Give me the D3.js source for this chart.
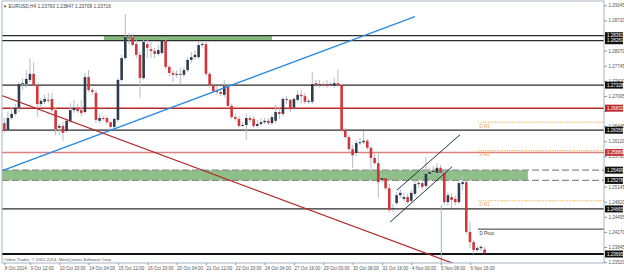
<!DOCTYPE html>
<html>
<head>
<meta charset="utf-8">
<script src="https://cdn.jsdelivr.net/npm/d3@7"></script>
<style>
  body { margin: 0; background: #fff; }
  text { font-family: "Liberation Sans", Arial, sans-serif; }
</style>
</head>
<body>
<script>
// EURUSD H4 candles (oldest first)
const opens = [
  1.2651,1.2636,1.2662,1.2671,1.2684,1.2735,1.2735,1.2744,1.2757,1.2733,
  1.2692,1.2697,1.2701,1.2703,1.2679,1.2641,1.2645,1.2634,1.2656,1.2679,
  1.2684,1.2679,1.2675,1.2750,1.2722,1.2716,1.2656,1.2662,1.2662,1.2653,
  1.2643,1.2658,1.2744,1.2791,1.2836,1.2836,1.2821,1.2798,1.2748,1.2821,
  1.2810,1.2806,1.2800,1.2802,1.2828,1.2772,1.2759,1.2755,1.2757,1.2755,
  1.2765,1.2787,1.2793,1.2793,1.2819,1.2821,1.2757,1.2733,1.2720,1.2718,
  1.2712,1.2729,1.2688,1.2664,1.2660,1.2645,1.2647,1.2662,1.2660,1.2645,
  1.2649,1.2653,1.2656,1.2651,1.2656,1.2675,1.2671,1.2703,1.2701,1.2684,
  1.2701,1.2712,1.2709,1.2697,1.2697,1.2737,1.2733,1.2735,1.2735,1.2733,
  1.2731,1.2737,1.2733,1.2636,1.2621,1.2595,1.2587,1.2608,1.2610,1.2613,
  1.2598,1.2576,1.2565,1.2529,1.2533,1.2511,1.2466,1.2479,1.2496,1.2488,
  1.2492,1.2484,1.2499,1.2520,1.2522,1.2516,1.2542,1.2546,1.2544,1.2555,
  1.2544,1.2481,1.2492,1.2488,1.2481,1.2520,1.2524,1.2417,1.2395,1.2378,
  1.2382,1.23793
];
const highs = [
  1.2662,1.2675,1.2684,1.2692,1.2739,1.2748,1.2765,1.2791,1.2782,1.2737,
  1.2705,1.2712,1.2716,1.2716,1.2684,1.2649,1.2653,1.2662,1.2694,1.2701,
  1.2692,1.2701,1.2759,1.2765,1.2727,1.2722,1.2671,1.2666,1.2666,1.2655,
  1.2664,1.2748,1.2798,1.2886,1.2845,1.2843,1.2830,1.2804,1.2830,1.2830,
  1.2826,1.2813,1.2819,1.2834,1.2834,1.2776,1.2765,1.2765,1.2770,1.2772,
  1.2793,1.2804,1.2808,1.2826,1.2826,1.2826,1.2761,1.2737,1.2731,1.2722,
  1.2744,1.2733,1.2692,1.2671,1.2666,1.2653,1.2671,1.2666,1.2666,1.2658,
  1.2662,1.2662,1.2662,1.2669,1.2690,1.2684,1.2707,1.2709,1.2703,1.2707,
  1.2722,1.2722,1.2716,1.2703,1.2761,1.2744,1.2744,1.2739,1.2744,1.2739,
  1.2748,1.2767,1.2735,1.2641,1.2625,1.2604,1.2615,1.2619,1.2634,1.2617,
  1.2602,1.2585,1.2587,1.2542,1.2539,1.2520,1.2477,1.2503,1.2509,1.2501,
  1.2499,1.2507,1.2529,1.2531,1.2529,1.2578,1.2555,1.2559,1.2565,1.2561,
  1.2550,1.2503,1.2501,1.2494,1.2529,1.2537,1.2529,1.2438,1.2400,1.2387,
  1.2389,1.23847
];
const lows = [
  1.2630,1.2632,1.2658,1.2666,1.2675,1.2722,1.2727,1.2739,1.2729,1.2664,
  1.2684,1.2692,1.2694,1.2675,1.2625,1.2625,1.2613,1.2630,1.2651,1.2673,
  1.2673,1.2666,1.2671,1.2718,1.2712,1.2651,1.2651,1.2656,1.2649,1.2636,
  1.2638,1.2653,1.2739,1.2787,1.2821,1.2817,1.2791,1.2705,1.2744,1.2791,
  1.2791,1.2791,1.2795,1.2798,1.2767,1.2752,1.2739,1.2748,1.2733,1.2750,
  1.2761,1.2780,1.2787,1.2789,1.2813,1.2752,1.2727,1.2716,1.2712,1.2709,
  1.2707,1.2684,1.2660,1.2656,1.2641,1.2643,1.2615,1.2653,1.2641,1.2641,
  1.2645,1.2649,1.2647,1.2647,1.2651,1.2660,1.2666,1.2692,1.2675,1.2679,
  1.2697,1.2694,1.2692,1.2692,1.2692,1.2729,1.2727,1.2729,1.2727,1.2731,
  1.2727,1.2729,1.2632,1.2617,1.2589,1.2555,1.2580,1.2604,1.2606,1.2593,
  1.2550,1.2561,1.2490,1.2524,1.2507,1.2458,1.2460,1.2475,1.2490,1.2484,
  1.2479,1.2479,1.2494,1.2511,1.2507,1.2511,1.2537,1.2542,1.2539,1.2537,
  1.2475,1.2473,1.2468,1.2475,1.2477,1.2507,1.2412,1.2382,1.2369,1.2374,
  1.2376,1.23709
];
const closes = [
  1.2634,1.2662,1.2671,1.2684,1.2735,1.2737,1.2746,1.2757,1.2733,1.2692,
  1.2699,1.2703,1.2699,1.2679,1.2638,1.2645,1.2630,1.2656,1.2679,1.2684,
  1.2677,1.2673,1.2750,1.2722,1.2718,1.2658,1.2662,1.2660,1.2653,1.2643,
  1.2660,1.2744,1.2791,1.2836,1.2834,1.2819,1.2798,1.2748,1.2826,1.2813,
  1.2806,1.2800,1.2808,1.2830,1.2772,1.2759,1.2755,1.2757,1.2755,1.2765,
  1.2787,1.2793,1.2798,1.2819,1.2821,1.2757,1.2733,1.2720,1.2718,1.2714,
  1.2731,1.2688,1.2664,1.2660,1.2645,1.2647,1.2662,1.2658,1.2645,1.2649,
  1.2653,1.2656,1.2651,1.2664,1.2675,1.2671,1.2703,1.2701,1.2681,1.2703,
  1.2712,1.2709,1.2697,1.2699,1.2735,1.2733,1.2735,1.2733,1.2731,1.2735,
  1.2737,1.2733,1.2636,1.2621,1.2595,1.2582,1.2608,1.2610,1.2613,1.2598,
  1.2576,1.2565,1.2524,1.2533,1.2511,1.2464,1.2468,1.2496,1.2501,1.2492,
  1.2481,1.2501,1.2520,1.2522,1.2514,1.2542,1.2546,1.2548,1.2555,1.2544,
  1.2481,1.2496,1.2486,1.2481,1.2522,1.2524,1.2417,1.2395,1.2378,1.2382,
  1.2385,1.23716
];

// time axis labels and the bar they sit on
const timeLabels = ["8 Oct 2014","9 Oct 12:00","10 Oct 20:00","14 Oct 04:00","15 Oct 12:00",
  "16 Oct 20:00","20 Oct 04:00","21 Oct 12:00","22 Oct 20:00","24 Oct 04:00","27 Oct 16:00",
  "29 Oct 00:00","30 Oct 08:00","31 Oct 16:00","4 Nov 00:00","5 Nov 08:00","6 Nov 16:00"];
const labelBars = [0,7,15,23,31,39,47,55,63,71,79,87,95,103,111,119,127];

const priceTicks = [1.29045,1.28720,1.28395,1.28070,1.27745,1.27420,1.27095,1.26770,1.26445,
  1.26120,1.25795,1.25470,1.25145,1.24820,1.24495,1.24170,1.23845,1.23520];

// horizontal levels
const blackLevels = [1.28391,1.28283,1.27328,1.26358,1.24665];
const bottomLevel = 1.23695;
const redLevel = 1.26832;
const pinkLevel = 1.25880;
const zoneLevels = [1.25499,1.25278];
const topZone = {bars:[27.2,73], prices:[1.28391,1.28283]};

// daily pivots
const pivotNames = ["D R3","D R2","D R1","D Pivot"];
const pivotValues = [1.2653,1.2592,1.2484,1.2423];
const pivotStartBar = 129.2;

// trend lines as [bar, price] pairs
const blueTrend = [[-1.2,1.2547],[112,1.2880]];
const redTrend = [[-1.2,1.2712],[122.9,1.2348]];
const channelUpper = [[107.1,1.2507],[124.3,1.2626]];
const channelLower = [[105.2,1.2438],[122.1,1.2557]];
const markerBar = 119.2, markerPrice = 1.2475;

const W = 624, H = 272;
const plot = {left:2, right:604, top:1, bottom:263};

const svg = d3.select("body").append("svg")
  .attr("width", W).attr("height", H);

const x = d3.scaleLinear().domain([0,131]).range([4.3,484.6]);
const y = d3.scaleLinear().domain([1.28391,1.23695]).range([35.7,254]);

svg.append("defs").append("clipPath").attr("id","plotclip")
  .append("rect")
  .attr("x", plot.left).attr("y", plot.top)
  .attr("width", plot.right - plot.left).attr("height", plot.bottom - plot.top);

const g = svg.append("g").attr("clip-path","url(#plotclip)");

// green zones
g.append("rect")
  .attr("x", x(topZone.bars[0])).attr("y", y(topZone.prices[0]))
  .attr("width", x(topZone.bars[1]) - x(topZone.bars[0]))
  .attr("height", y(topZone.prices[1]) - y(topZone.prices[0]))
  .attr("fill","#86b97c");

g.append("rect")
  .attr("x", plot.left).attr("y", y(zoneLevels[0]))
  .attr("width", x(142.8) - plot.left)
  .attr("height", y(zoneLevels[1]) - y(zoneLevels[0]))
  .attr("fill","#8fbf88");

g.selectAll(".zone-line").data(zoneLevels).join("line")
  .attr("x1", plot.left).attr("x2", plot.right)
  .attr("y1", d => y(d)).attr("y2", d => y(d))
  .attr("stroke","#8a8a8a").attr("stroke-width",1.2)
  .attr("stroke-dasharray","7,3");

// horizontal levels
g.selectAll(".black-level").data(blackLevels).join("line")
  .attr("x1", plot.left).attr("x2", plot.right)
  .attr("y1", d => y(d)).attr("y2", d => y(d))
  .attr("stroke","#2b2b2b").attr("stroke-width",1.3);

g.append("line")
  .attr("x1", plot.left).attr("x2", plot.right)
  .attr("y1", y(bottomLevel)).attr("y2", y(bottomLevel))
  .attr("stroke","#111").attr("stroke-width",2.2);

g.append("line")
  .attr("x1", plot.left).attr("x2", plot.right)
  .attr("y1", y(redLevel)).attr("y2", y(redLevel))
  .attr("stroke","#b8282a").attr("stroke-width",1.5);

g.append("line")
  .attr("x1", plot.left).attr("x2", plot.right)
  .attr("y1", y(pinkLevel)).attr("y2", y(pinkLevel))
  .attr("stroke","#d98080").attr("stroke-width",1.5);

// pivots
const piv = g.selectAll(".pivot").data(pivotValues).join("g");
piv.append("line")
  .attr("x1", x(pivotStartBar)).attr("x2", plot.right)
  .attr("y1", d => y(d)).attr("y2", d => y(d))
  .attr("stroke", (d,i) => i == 3 ? "#333" : "#f5ad4a")
  .attr("stroke-width", 1)
  .attr("stroke-dasharray", (d,i) => i == 3 ? null : "1.2,1.2");
piv.append("text")
  .attr("x", x(pivotStartBar) + 1.5).attr("y", d => y(d) + 5.5)
  .attr("font-size", 4.5)
  .attr("fill", (d,i) => i == 3 ? "#333" : "#f0a040")
  .text((d,i) => pivotNames[i]);

// candles
const bars = d3.range(opens.length);
g.selectAll(".wick").data(bars).join("line")
  .attr("x1", i => x(i)).attr("x2", i => x(i))
  .attr("y1", i => y(highs[i])).attr("y2", i => y(lows[i]))
  .attr("stroke","#b4bcc6").attr("stroke-width",1);

g.selectAll(".body").data(bars).join("rect")
  .attr("x", i => x(i) - 1.3)
  .attr("y", i => y(Math.max(opens[i], closes[i])))
  .attr("width", 2.6)
  .attr("height", i => Math.max(1, Math.abs(y(opens[i]) - y(closes[i]))))
  .attr("fill", i => closes[i] >= opens[i] ? "#2e3c4c" : "#d2353a");

// marker line
g.append("line")
  .attr("x1", x(markerBar)).attr("x2", x(markerBar))
  .attr("y1", y(markerPrice)).attr("y2", plot.bottom)
  .attr("stroke","#8fb2e6").attr("stroke-width",1);

// trend lines
function extend(p, b0, b1) {
  const s = (p[1][1] - p[0][1]) / (p[1][0] - p[0][0]);
  return [[b0, p[0][1] + s * (b0 - p[0][0])], [b1, p[0][1] + s * (b1 - p[0][0])]];
}
const line = d3.line().x(d => x(d[0])).y(d => y(d[1]));

g.append("path").attr("d", line(extend(blueTrend, -2, blueTrend[1][0])))
  .attr("fill","none").attr("stroke","#2f8be0").attr("stroke-width",1.3);
g.append("path").attr("d", line(extend(redTrend, -2, 124)))
  .attr("fill","none").attr("stroke","#b0282a").attr("stroke-width",1.2);
g.append("path").attr("d", line(channelUpper))
  .attr("fill","none").attr("stroke","#26363c").attr("stroke-width",1);
g.append("path").attr("d", line(channelLower))
  .attr("fill","none").attr("stroke","#26363c").attr("stroke-width",1);

// frame
svg.append("rect")
  .attr("x", plot.left).attr("y", plot.top)
  .attr("width", plot.right - plot.left).attr("height", plot.bottom - plot.top)
  .attr("fill","none").attr("stroke","#a8b4c2").attr("stroke-width",1);

// header and copyright
svg.append("text").attr("x", 3).attr("y", 7.5).attr("font-size", 4.2).attr("fill","#444").text("\u25BC");
svg.append("text").attr("x", 8.5).attr("y", 7.5).attr("font-size", 4.8).attr("fill","#444")
  .text("EURUSD,H4  1.23793 1.23847 1.23709 1.23716");
svg.append("text").attr("x", 4).attr("y", 260.5).attr("font-size", 4.3).attr("fill","#555")
  .text("Orbex Trader, \u00A9 2001-2014, MetaQuotes Software Corp.");

// price boxes on the axis
const boxes = [
  ...blackLevels.map(v => ({v, fill:"#111"})),
  {v: bottomLevel, fill:"#111"},
  {v: redLevel, fill:"#c0272d"},
  {v: pinkLevel, fill:"#c8383c"},
  ...zoneLevels.map(v => ({v, fill:"#111"}))
];

// tick labels that sit under a price box are covered in the terminal
const covered = t => boxes.some(b => Math.abs(y(b.v) - y(t)) < 3);

// price axis
const yAxis = svg.append("g")
  .attr("transform", `translate(${plot.right},0)`)
  .call(d3.axisRight(y).tickValues(priceTicks)
    .tickFormat(t => covered(t) ? "" : d3.format(".5f")(t))
    .tickSize(3).tickPadding(1.5));
yAxis.select(".domain").remove();
yAxis.selectAll("line").attr("stroke","#8898a8");
yAxis.selectAll("text").attr("font-size", 4.5).attr("fill","#555").attr("font-family","Liberation Sans, Arial, sans-serif");

// time axis
const xAxis = svg.append("g")
  .attr("transform", `translate(0,${plot.bottom})`)
  .call(d3.axisBottom(x).tickValues(labelBars).tickFormat((d,i) => timeLabels[i]).tickSize(2).tickPadding(1.5));
xAxis.select(".domain").remove();
xAxis.selectAll("line").attr("stroke","#8898a8");
xAxis.selectAll("text").attr("font-size", 4.5).attr("fill","#555")
  .attr("text-anchor","start").attr("font-family","Liberation Sans, Arial, sans-serif");

const bx = svg.selectAll(".pbox").data(boxes).join("g");
bx.append("rect")
  .attr("x", plot.right + 1).attr("y", d => y(d.v) - 3.5)
  .attr("width", 18).attr("height", 7)
  .attr("fill", d => d.fill);
bx.append("text")
  .attr("x", plot.right + 3).attr("y", d => y(d.v) + 1.7)
  .attr("font-size", 4.5).attr("fill","#fff")
  .text(d => d.v.toFixed(5));
</script>
</body>
</html>
